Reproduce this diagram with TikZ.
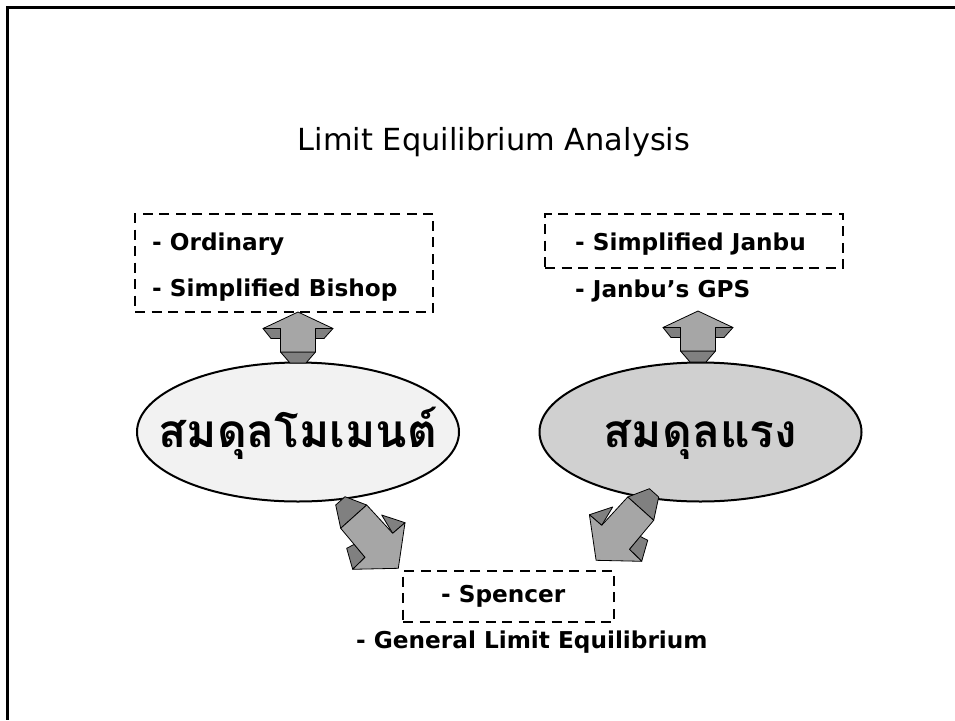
\documentclass[tikz,border=0pt]{standalone}
\usepackage{fontspec}
\setmainfont{DejaVu Sans}
\newfontfamily\thaifont[Script=Thai]{Loma}
\usetikzlibrary{shapes.geometric}
\definecolor{arrfront}{HTML}{A6A6A6}
\definecolor{arrside}{HTML}{808080}
\definecolor{ovalL}{HTML}{F2F2F2}
\definecolor{ovalR}{HTML}{D0D0D0}
\tikzset{
 dbox/.style={draw, line width=2.6pt, dash pattern=on 10pt off 6.5pt, rectangle, inner sep=0pt, outer sep=0pt},
 item/.style={anchor=base west, inner sep=0pt, font=\fontsize{23.2}{27}\selectfont\bfseries},
 face/.style={draw=black, line width=0.8pt, line join=round, fill=arrfront},
 side/.style={draw=black, line width=0.8pt, line join=round, fill=arrside},
 oval/.style={ellipse, draw, line width=2pt, minimum width=322pt, minimum height=139pt, inner sep=0pt},
 thaitext/.style={anchor=base, inner sep=0pt, font=\thaifont\bfseries\fontsize{46}{52}\selectfont},
}
\newcommand\myuparrow[1]{%
 \begin{scope}[shift={#1}]
  \path[side] (-35,16.5) -- (-17.5,16.5) -- (-17.5,26.5) -- (-27,26.5) -- cycle;
  \path[side] (17.5,16.5) -- (35,16.5) -- (26,26.5) -- (17.5,26.5) -- cycle;
  \path[side] (-17.5,40) -- (17.5,40) -- (8,51) -- (-8,51) -- cycle;
  \path[face] (0,0) -- (35,16.5) -- (17.5,16.5) -- (17.5,40) -- (-17.5,40) -- (-17.5,16.5) -- (-35,16.5) -- cycle;
 \end{scope}}
\newcommand\mydiagarrow{%
  \path[side] (335.7,505) -- (345,496.7) -- (366.7,505) -- (340.7,528.3) -- cycle;
  \path[side] (381.7,515) -- (405,522.7) -- (392.7,533.3) -- cycle;
  \path[side] (346.7,548.3) -- (354.3,544.3) -- (365,557.3) -- (352.7,569.3) -- cycle;
  \path[face] (366.7,505) -- (392.7,533.3) -- (405,522.7) -- (398.3,568.3) -- (352.7,569.3) -- (365,557.3) -- (340.7,528.3) -- cycle;}
\begin{document}
\begin{tikzpicture}[x=1pt,y=-1pt]
\useasboundingbox (0,0) rectangle (955,720);
% slide frame
\coordinate (fTL) at (7.5,7.5);
\coordinate (fTR) at (955,7.5);
\coordinate (fBL) at (7.5,720);
\draw[line width=3pt] (fTR) -- (fTL) -- (fBL);
% title
\node[anchor=base, inner sep=0pt, font=\fontsize{30.4}{36}\selectfont] (title) at (494,150) {Limit Equilibrium Analysis};
% boxes
\node[dbox, anchor=north west, minimum width=298pt, minimum height=98pt] (boxL) at (135,214) {};
\node[dbox, anchor=north west, minimum width=298pt, minimum height=54pt] (boxR) at (545,214) {};
\node[dbox, anchor=north west, minimum width=211pt, minimum height=51pt] (boxB) at (403,571) {};
% items
\node[item] (t1) at (152,250) {- Ordinary};
\node[item] (t2) at (152,296) {- Simplified Bishop};
\node[item] (t3) at (575,250) {- Simplified Janbu};
\node[item] (t4) at (575,297) {- Janbu’s GPS};
\node[item] (t5) at (441,602) {- Spencer};
\node[item] (t6) at (356,648) {- General Limit Equilibrium};
% ellipses
\node[oval, fill=ovalL] (eL) at (298,432) {};
\node[oval, fill=ovalR] (eR) at (700.5,432) {};
\node[thaitext] (eLt) at (298,447) {สมดุลโมเมนต์};
\node[thaitext] (eRt) at (700.5,447) {สมดุลแรง};
% up arrows
\myuparrow{(298,312)}
\myuparrow{(698,311)}
% diagonal arrows
\mydiagarrow
\begin{scope}[shift={(994.4,-8)}, xscale=-1]
\mydiagarrow
\end{scope}
\end{tikzpicture}
\end{document}
